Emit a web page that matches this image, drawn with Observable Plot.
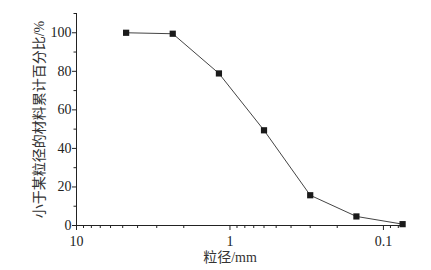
<!DOCTYPE html>
<html>
<head>
<meta charset="utf-8">
<script src="https://cdn.jsdelivr.net/npm/d3@7"></script>
<script src="https://cdn.jsdelivr.net/npm/@observablehq/plot@0.6"></script>
<style>
  html, body { margin: 0; padding: 0; background: #fff; }
  #chart svg { display: block; }
</style>
</head>
<body>
<div id="chart"></div>
<script>
const sizes = [4.75, 2.36, 1.18, 0.6, 0.3, 0.15, 0.075];
const passing = [100, 99.5, 78.9, 49.4, 15.7, 4.7, 0.7];
const xDomain = [10, 0.074];
const yDomain = [0, 110];
const xMajor = [10, 1, 0.1];
const xMinor = [9, 8, 7, 6, 5, 4, 3, 2, 0.9, 0.8, 0.7, 0.6, 0.5, 0.4, 0.3, 0.2, 0.09, 0.08];
const yMajor = [0, 20, 40, 60, 80, 100];
const yMinor = [10, 30, 50, 70, 90, 110];
const xLabel = "粒径/mm";
const yLabel = "小于某粒径的材料累计百分比/%";

const data = sizes.map((s, i) => ({size: s, pct: passing[i]}));
const font = "'Liberation Serif', 'Noto Sans CJK SC', serif";

const chart = Plot.plot({
  width: 431,
  height: 270,
  marginLeft: 76,
  marginRight: 28,
  marginTop: 13,
  marginBottom: 45,
  style: {fontFamily: font, fontSize: "13px", color: "#222", background: "#fff"},
  x: {type: "log", domain: xDomain},
  y: {domain: yDomain},
  marks: [
    Plot.axisX({ticks: xMajor, tickSize: 5, tickPadding: 6, tickFormat: d => String(d), label: null, fontSize: 14}),
    Plot.axisX({ticks: xMinor, tickSize: 3, text: null, label: null}),
    Plot.axisY({ticks: yMajor, tickSize: 4, tickPadding: 1, label: null, fontSize: 14}),
    Plot.axisY({ticks: yMinor, tickSize: 2.5, text: null, label: null}),
    Plot.ruleX([xDomain[0]], {stroke: "#222"}),
    Plot.ruleY([yDomain[0]], {stroke: "#222"}),
    Plot.line(data, {x: "size", y: "pct", stroke: "#444", strokeWidth: 1}),
    Plot.dot(data, {x: "size", y: "pct", symbol: "square", r: 3.5, fill: "#1a1a1a", stroke: "none"}),
    Plot.text([xLabel], {x: [1], frameAnchor: "bottom", lineAnchor: "middle", dy: 32, fontSize: 14, fill: "#333", fontFamily: font}),
    Plot.text([yLabel], {frameAnchor: "left", textAnchor: "middle", lineAnchor: "middle", dx: -37, rotate: -90, fontSize: 14, fill: "#333", fontFamily: font})
  ]
});
document.getElementById("chart").append(chart);
</script>
</body>
</html>
